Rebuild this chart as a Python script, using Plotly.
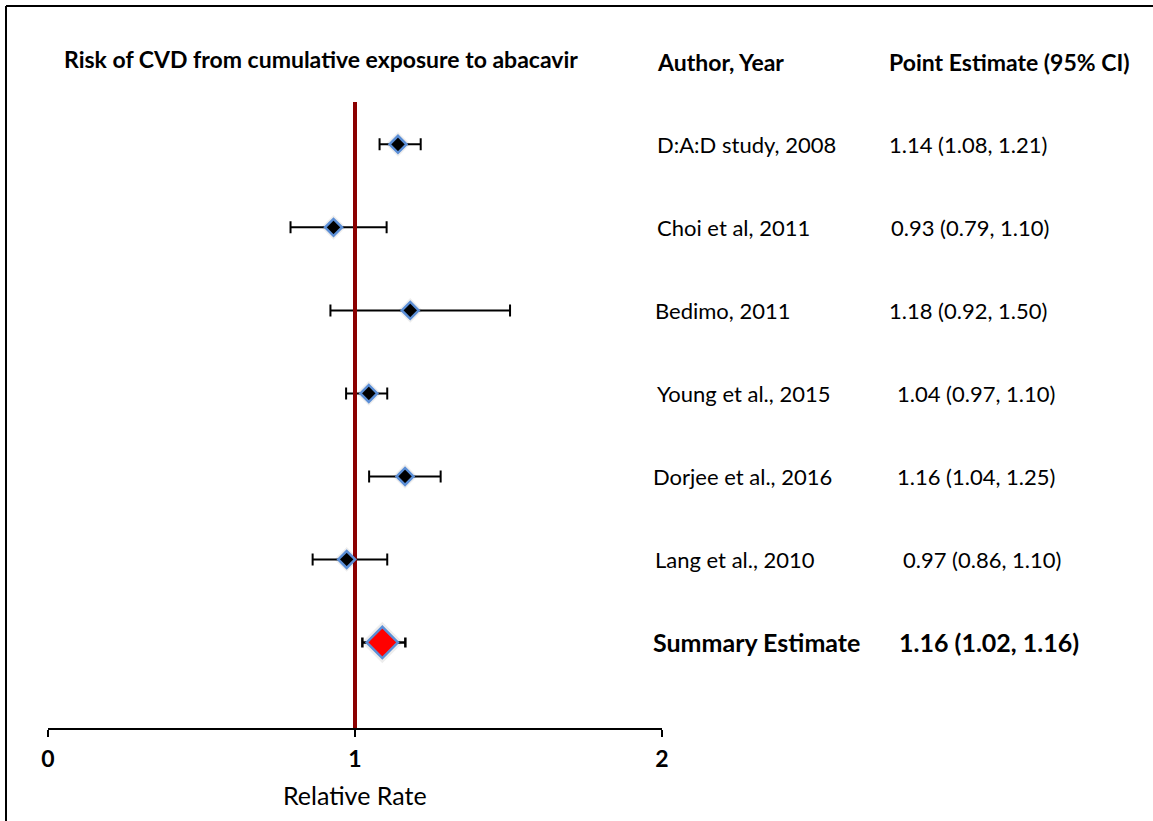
import plotly.graph_objects as go

# ---- data ----
authors = ["D:A:D study, 2008", "Choi et al, 2011", "Bedimo, 2011", "Young et al., 2015",
           "Dorjee et al., 2016", "Lang et al., 2010"]
estimate_text = ["1.14 (1.08, 1.21)", "0.93 (0.79, 1.10)", "1.18 (0.92, 1.50)",
                 "1.04 (0.97, 1.10)", "1.16 (1.04, 1.25)", "0.97 (0.86, 1.10)"]
point = [1.14, 0.93, 1.18, 1.045, 1.163, 0.973]
lower = [1.08, 0.79, 0.92, 0.971, 1.046, 0.862]
upper = [1.214, 1.103, 1.505, 1.105, 1.279, 1.105]
rows = [7, 6, 5, 4, 3, 2]

summary_label = "Summary Estimate"
summary_text = "1.16 (1.02, 1.16)"
summary_point = [1.089]
summary_lower = [1.024]
summary_upper = [1.164]
summary_row = [1]

x_ticks = [0, 1, 2]
x_tick_labels = ["0", "1", "2"]
null_value = 1

# ---- layout geometry (pixels) ----
W, H = 1153, 821
L, R, T, B = 48, 662, 102, 728
PW, PH = R - L, B - T
YMIN, YMAX = -0.03, 7.51


def px(xp):
    return (xp - L) / PW


def py(yp):
    return (B - yp) / PH


FONT = "Lato, Carlito, Calibri, sans-serif"
BLUE = "#5b8ed6"

fig = go.Figure()

# error bars for studies
fig.add_trace(go.Scatter(
    x=point, y=rows, mode="markers",
    marker=dict(size=1, color="rgba(0,0,0,0)"),
    error_x=dict(type="data", symmetric=False,
                 array=[u - p for u, p in zip(upper, point)],
                 arrayminus=[p - l for p, l in zip(point, lower)],
                 color="black", thickness=2, width=6),
    hoverinfo="skip", showlegend=False))

# error bars for summary
fig.add_trace(go.Scatter(
    x=summary_point, y=summary_row, mode="markers",
    marker=dict(size=1, color="rgba(0,0,0,0)"),
    error_x=dict(type="data", symmetric=False,
                 array=[u - p for u, p in zip(summary_upper, summary_point)],
                 arrayminus=[p - l for p, l in zip(summary_point, summary_lower)],
                 color="black", thickness=2.5, width=5),
    hoverinfo="skip", showlegend=False))

# null line
fig.add_trace(go.Scatter(
    x=[null_value, null_value], y=[YMIN, YMAX], mode="lines",
    line=dict(color="#8b0000", width=4),
    hoverinfo="skip", showlegend=False))

# soft shadows
fig.add_trace(go.Scatter(
    x=point + summary_point, y=rows + summary_row, mode="markers",
    marker=dict(symbol="diamond", size=[19] * len(point) + [32],
                color="rgba(0,0,0,0.10)", line=dict(width=0)),
    hoverinfo="skip", showlegend=False))

# study markers
fig.add_trace(go.Scatter(
    x=point, y=rows, mode="markers",
    marker=dict(symbol="diamond", size=13, color="black",
                line=dict(color=BLUE, width=2.5)),
    showlegend=False))

# summary marker
fig.add_trace(go.Scatter(
    x=summary_point, y=summary_row, mode="markers",
    marker=dict(symbol="diamond", size=24, color="#ff0000",
                line=dict(color=BLUE, width=2.5)),
    showlegend=False))

annotations = []
author_x = [655, 655, 653, 655, 651, 653]
est_x = [887, 889, 887, 895, 895, 901]
for a, e, r, ax_, ex_ in zip(authors, estimate_text, rows, author_x, est_x):
    annotations.append(dict(x=px(ax_), y=r, xref="paper", yref="y", text=a,
                            showarrow=False, xanchor="left", yanchor="middle",
                            font=dict(family=FONT, size=22, color="black")))
    annotations.append(dict(x=px(ex_), y=r, xref="paper", yref="y", text=e,
                            showarrow=False, xanchor="left", yanchor="middle",
                            font=dict(family=FONT, size=22, color="black")))

annotations.append(dict(x=px(651), y=summary_row[0], xref="paper", yref="y",
                        text="<b>" + summary_label + "</b>", showarrow=False,
                        xanchor="left", yanchor="middle",
                        font=dict(family=FONT, size=25, color="black")))
annotations.append(dict(x=px(897), y=summary_row[0], xref="paper", yref="y",
                        text="<b>" + summary_text + "</b>", showarrow=False,
                        xanchor="left", yanchor="middle",
                        font=dict(family=FONT, size=25, color="black")))

# headers and title
annotations.append(dict(x=px(321), y=py(59), xref="paper", yref="paper",
                        text="<b>Risk of CVD from cumulative exposure to abacavir</b>",
                        showarrow=False, xanchor="center", yanchor="middle",
                        font=dict(family=FONT, size=23, color="black")))
annotations.append(dict(x=px(655), y=py(62), xref="paper", yref="paper",
                        text="<b>Author, Year</b>", showarrow=False,
                        xanchor="left", yanchor="middle",
                        font=dict(family=FONT, size=23, color="black")))
annotations.append(dict(x=px(887), y=py(62), xref="paper", yref="paper",
                        text="<b>Point Estimate (95% CI)</b>", showarrow=False,
                        xanchor="left", yanchor="middle",
                        font=dict(family=FONT, size=23, color="black")))
annotations.append(dict(x=0.5, y=py(795), xref="paper", yref="paper",
                        text="Relative Rate", showarrow=False,
                        xanchor="center", yanchor="middle",
                        font=dict(family=FONT, size=25, color="black")))

shapes = [
    dict(type="line", xref="paper", yref="paper", x0=px(6), x1=px(W + 5),
         y0=py(6), y1=py(6), line=dict(color="black", width=2)),
    dict(type="line", xref="paper", yref="paper", x0=px(6), x1=px(6),
         y0=py(6), y1=py(H + 5), line=dict(color="black", width=2)),
]

fig.update_layout(
    width=W, height=H,
    margin=dict(l=L, r=W - R, t=T, b=H - B),
    paper_bgcolor="white", plot_bgcolor="white",
    xaxis=dict(range=[0, 2], tickvals=x_ticks, ticktext=["<b>%s</b>" % t for t in x_tick_labels],
               showgrid=False, zeroline=False, showline=True, linecolor="black",
               linewidth=2, ticks="outside", ticklen=7, tickwidth=2,
               tickcolor="black", fixedrange=True, ticklabelstandoff=2,
               tickfont=dict(family=FONT, size=23, color="black")),
    yaxis=dict(range=[YMIN, YMAX], visible=False, fixedrange=True),
    annotations=annotations,
    shapes=shapes,
    showlegend=False,
)

fig.write_html("out.html")
